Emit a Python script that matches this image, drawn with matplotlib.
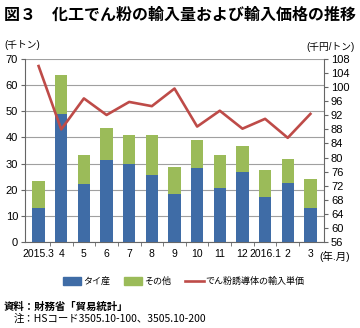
import matplotlib
matplotlib.use('Agg')
import matplotlib.pyplot as plt
from matplotlib.patches import Patch
from matplotlib.lines import Line2D

plt.rcParams['font.family'] = ['Liberation Sans', 'Noto Sans CJK JP', 'DejaVu Sans']
jp = ['Noto Sans CJK JP', 'DejaVu Sans']

months = ['2015.3', '4', '5', '6', '7', '8', '9', '10', '11', '12', '2016.1', '2', '3']
thai = [13.0, 48.9, 22.1, 31.3, 29.8, 25.6, 18.3, 28.2, 20.7, 26.7, 17.4, 22.4, 13.0]
total = [23.4, 64.0, 33.1, 43.5, 40.8, 41.0, 28.6, 38.9, 33.1, 36.6, 27.5, 31.8, 24.2]
other = [t - b for t, b in zip(total, thai)]
price = [106.0, 88.0, 96.8, 92.1, 95.8, 94.6, 99.6, 88.8, 93.3, 88.2, 91.0, 85.6, 92.4]

c_blue = '#3f6ca6'
c_green = '#9bbb59'
c_red = '#be4b48'

fig = plt.figure(figsize=(3.6, 3.28), dpi=100)
ax = fig.add_axes([25/360, 1 - 242/328, 299/360, 183/328])
x = list(range(len(months)))

ax.bar(x, thai, width=0.55, color=c_blue, zorder=3)
ax.bar(x, other, width=0.55, bottom=thai, color=c_green, zorder=3)
ax.set_ylim(0, 70)
ax.set_yticks(range(0, 71, 10))
ax.set_xlim(-0.6, len(months) - 0.4)
ax.grid(axis='y', color='#a0a0a0', linewidth=0.8, zorder=0)
ax.set_xticks(x)
ax.set_xticklabels(months)
ax.tick_params(axis='x', length=0, labelsize=7.5, pad=5)
ax.set_xticks([i + 0.5 for i in x[:-1]], minor=True)
ax.tick_params(axis='x', which='minor', length=3, direction='out', color='#666666')
ax.tick_params(axis='y', labelsize=8, length=3, color='#666666', pad=2)
for s in ['top', 'right']:
    ax.spines[s].set_visible(False)
ax.spines['left'].set_color('#666666')
ax.spines['bottom'].set_color('#666666')

ax2 = ax.twinx()
ax2.plot(x, price, color=c_red, linewidth=1.9)
ax2.set_ylim(56, 108)
ax2.set_yticks(range(56, 109, 4))
ax2.tick_params(axis='y', labelsize=8, length=3, color='#666666', pad=2)
for s in ['top', 'left', 'bottom']:
    ax2.spines[s].set_visible(False)
ax2.spines['right'].set_color('#666666')

fig.text(0.012, 0.955, '図３　化工でん粉の輸入量および輸入価格の推移', fontsize=11.5,
         fontweight='bold', va='center', family=jp)
fig.text(0.012, 0.862, '(千トン)', fontsize=7, va='center')
fig.text(0.985, 0.858, '(千円/トン)', fontsize=7, va='center', ha='right')
fig.text(0.888, 0.217, '(年.月)', fontsize=7.5, va='center')

handles = [Patch(color=c_blue, label='タイ産'),
           Patch(color=c_green, label='その他'),
           Line2D([], [], color=c_red, linewidth=1.9, label='でん粉誘導体の輸入単価')]
fig.legend(handles=handles, loc='center', bbox_to_anchor=(0.51, 0.142), ncol=3, frameon=False,
           prop={'family': jp, 'size': 6.5}, handlelength=2.0, handleheight=0.9,
           columnspacing=1.6, handletextpad=0.2)

fig.text(0.01, 0.064, '資料：財務省「貿易統計」', fontsize=7.5, fontweight='bold', va='center', family=jp)
fig.text(0.038, 0.027, '注：HSコード3505.10-100、3505.10-200', fontsize=7.5, va='center', family=jp)

fig.savefig('out.png', dpi=100)
